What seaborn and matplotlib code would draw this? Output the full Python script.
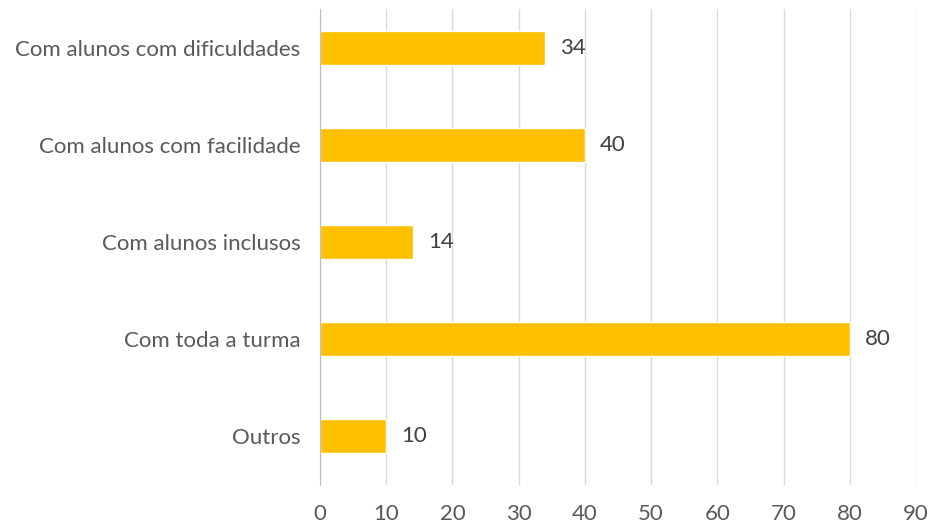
import matplotlib
matplotlib.use("Agg")
import matplotlib.pyplot as plt
import seaborn as sns
import pandas as pd

categories = ["Com alunos com dificuldades", "Com alunos com facilidade",
              "Com alunos inclusos", "Com toda a turma", "Outros"]
values = [34, 40, 14, 80, 10]
xticks = [0, 10, 20, 30, 40, 50, 60, 70, 80, 90]

df = pd.DataFrame({"cat": categories, "val": values})

sns.set_style("white")
plt.rcParams['font.family'] = ['Lato', 'DejaVu Sans']
txt = "#595959"

fig = plt.figure(figsize=(9.31, 5.27), dpi=100)
ax = fig.add_axes([320 / 931, 1 - 485 / 527, (916 - 320) / 931, 476 / 527])
sns.barplot(data=df, y="cat", x="val", color="#FFC000", width=0.35,
            saturation=1, ax=ax, zorder=3)
ax.set_xlim(0, 90)
ax.set_ylim(4.505, -0.402)
ax.set_xticks(xticks)
ax.set_xticklabels([str(t) for t in xticks])
ax.xaxis.grid(True, color="#D9D9D9", linewidth=1, zorder=0)
ax.set_axisbelow(True)
for s in ["top", "right", "bottom"]:
    ax.spines[s].set_visible(False)
ax.spines["left"].set_color("#BFBFBF")
ax.spines["left"].set_zorder(4)
ax.tick_params(axis="both", length=0, colors=txt, labelsize=16)
ax.tick_params(axis="y", pad=14)
ax.tick_params(axis="x", pad=14)
ax.set_xlabel("")
ax.set_ylabel("")
for i, v in enumerate(values):
    ax.text(v + 2.3, i, str(v), va="center", ha="left", color="#404040", fontsize=16)

fig.savefig("out.png", dpi=100)
